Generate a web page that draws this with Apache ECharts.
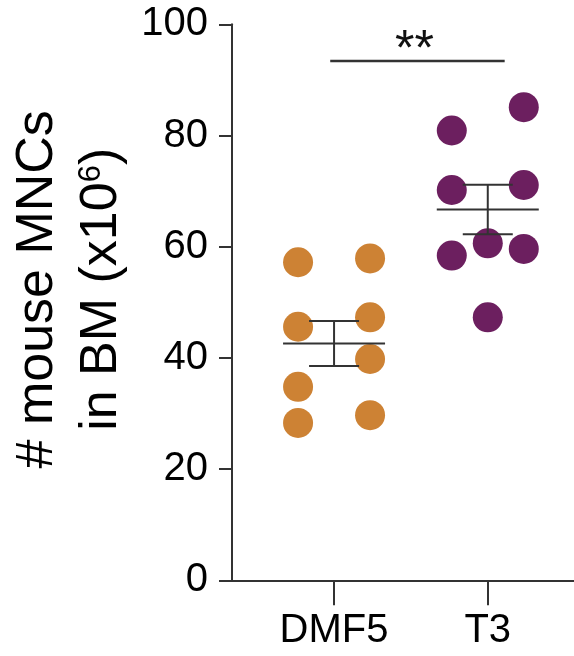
<!DOCTYPE html>
<html>
<head>
<meta charset="utf-8">
<script src="https://cdn.jsdelivr.net/npm/echarts@6/dist/echarts.min.js"></script>
<style>
  html, body { margin: 0; padding: 0; background: #fff; }
  #main { width: 574px; height: 656px; }
</style>
</head>
<body>
<div id="main"></div>
<script>
(function () {
    var myChart = echarts.init(document.getElementById('main'));

    // groups on the x axis (1 = DMF5, 2 = T3)
    var groups = ['DMF5', 'T3'];
    var groupPos = [1, 2];

    // individual mice
    var dmf5Values = [57.2, 45.6, 34.8, 28.3, 57.9, 47.3, 39.8, 29.7];
    var dmf5Column = [-1, -1, -1, -1, 1, 1, 1, 1];
    var t3Values = [80.9, 70.2, 58.4, 60.6, 47.3, 85.1, 71.1, 59.6];
    var t3Column = [-1, -1, -1, 0, 0, 1, 1, 1];

    // mean and SEM per group
    var means = [42.6, 66.7];
    var sems = [4.05, 4.45];

    // significance bar
    var sigFrom = 0.975;
    var sigTo = 2.11;
    var sigLevel = 93.4;
    var sigLabel = '**';

    var yTicks = [0, 20, 40, 60, 80, 100];

    var colors = ['#CD8234', '#6C1F5F'];
    var lineColor = '#333';
    var fontFamily = '"Liberation Sans", Arial, Helvetica, sans-serif';
    var jitterPx = 36;

    function points(values, column, g) {
        var res = [];
        for (var i = 0; i < values.length; i++) {
            res.push({
                value: [groupPos[g], values[i]],
                symbolOffset: [column[i] * jitterPx, 0]
            });
        }
        return res;
    }

    function meanSem(params, api) {
        var x = api.value(0);
        var m = api.value(1);
        var s = api.value(2);
        var c = api.coord([x, m]);
        var hi = api.coord([x, m + s]);
        var lo = api.coord([x, m - s]);
        var style = { stroke: lineColor, lineWidth: 2 };
        return {
            type: 'group',
            children: [
                { type: 'line', shape: { x1: c[0] - 51, y1: c[1], x2: c[0] + 51, y2: c[1] }, style: style },
                { type: 'line', shape: { x1: c[0], y1: hi[1], x2: c[0], y2: lo[1] }, style: style },
                { type: 'line', shape: { x1: c[0] - 25, y1: hi[1], x2: c[0] + 25, y2: hi[1] }, style: style },
                { type: 'line', shape: { x1: c[0] - 25, y1: lo[1], x2: c[0] + 25, y2: lo[1] }, style: style }
            ]
        };
    }

    function sigBar(params, api) {
        var a = api.coord([api.value(0), api.value(2)]);
        var b = api.coord([api.value(1), api.value(2)]);
        return {
            type: 'group',
            children: [
                { type: 'line', shape: { x1: a[0], y1: a[1], x2: b[0], y2: b[1] },
                  style: { stroke: lineColor, lineWidth: 2.5 } },
                { type: 'text', x: (a[0] + b[0]) / 2 - 3, y: a[1] + 15,
                  style: { text: sigLabel, fill: '#111', font: '50px ' + fontFamily,
                           align: 'center', verticalAlign: 'bottom' } }
            ]
        };
    }

    var meanData = [];
    for (var g = 0; g < groups.length; g++) {
        meanData.push([groupPos[g], means[g], sems[g]]);
    }

    option = {
        backgroundColor: '#fff',
        animation: false,
        grid: { left: 232, right: 0, top: 24.3, bottom: 75.7 },
        xAxis: {
            type: 'value',
            min: 0.336,
            max: 2.561,
            splitLine: { show: false },
            axisLine: { show: true, lineStyle: { color: lineColor, width: 2 } },
            axisTick: { show: true, customValues: groupPos, length: 25, lineStyle: { color: lineColor, width: 2 } },
            axisLabel: {
                customValues: groupPos,
                margin: 31,
                fontSize: 40,
                color: '#000',
                fontFamily: fontFamily,
                formatter: function (v) {
                    return groups[groupPos.indexOf(Math.round(v))] || '';
                }
            }
        },
        yAxis: {
            type: 'value',
            min: yTicks[0],
            max: yTicks[yTicks.length - 1],
            interval: 20,
            splitLine: { show: false },
            axisLine: { show: true, lineStyle: { color: lineColor, width: 2 } },
            axisTick: { show: true, length: 13, lineStyle: { color: lineColor, width: 2 } },
            axisLabel: { margin: 24, fontSize: 40, color: '#000', fontFamily: fontFamily },
            name: '{a|# mouse MNCs}\n{a|in BM (x10}{sup|6}{a|)}',
            nameLocation: 'middle',
            nameRotate: 90,
            nameGap: 98,
            nameTextStyle: {
                padding: [0, 0, 0, 26],
                rich: {
                    a: { fontSize: 52, lineHeight: 64, color: '#000', fontFamily: fontFamily },
                    sup: { fontSize: 31, lineHeight: 64, color: '#000', fontFamily: fontFamily, verticalAlign: 'top', padding: [6, 0, 0, 0] }
                }
            }
        },
        series: [{
            name: groups[0],
            type: 'scatter',
            symbol: 'circle',
            symbolSize: 30,
            itemStyle: { color: colors[0], opacity: 1 },
            data: points(dmf5Values, dmf5Column, 0),
            z: 2
        }, {
            name: groups[1],
            type: 'scatter',
            symbol: 'circle',
            symbolSize: 30,
            itemStyle: { color: colors[1], opacity: 1 },
            data: points(t3Values, t3Column, 1),
            z: 2
        }, {
            type: 'custom',
            renderItem: meanSem,
            data: meanData,
            silent: true,
            z: 3
        }, {
            type: 'custom',
            renderItem: sigBar,
            data: [[sigFrom, sigTo, sigLevel]],
            silent: true,
            z: 3
        }]
    };
    myChart.setOption(option);
})();
</script>
</body>
</html>
